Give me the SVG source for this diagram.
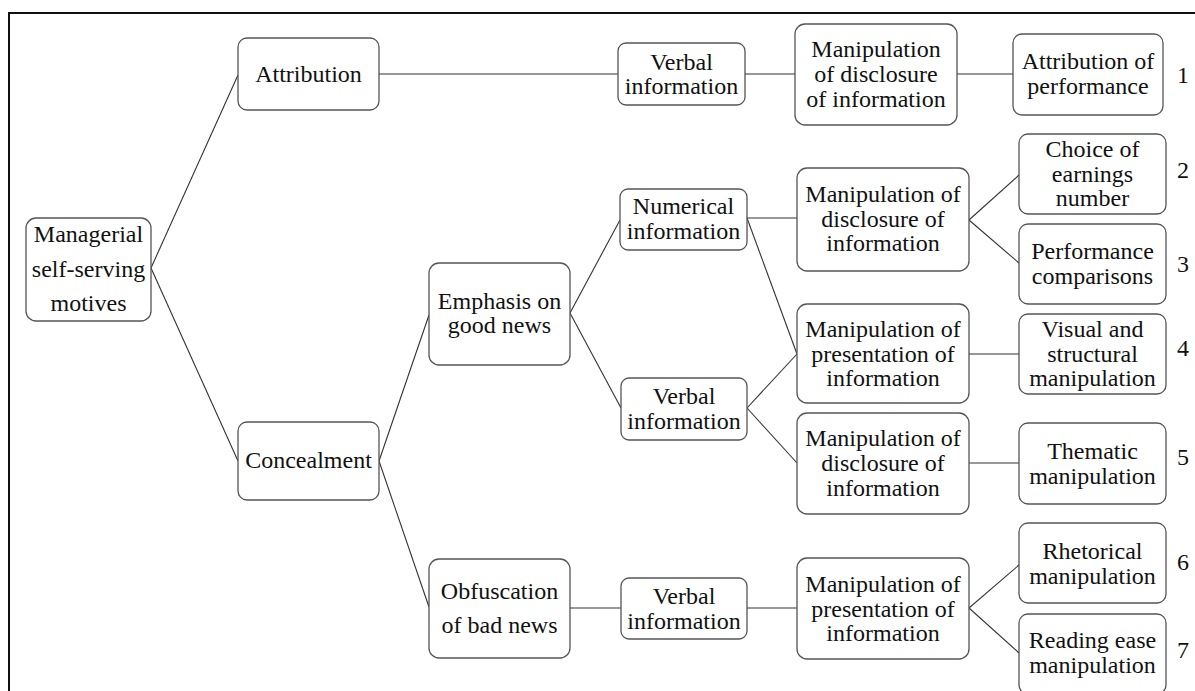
<svg xmlns="http://www.w3.org/2000/svg" width="1195" height="691" viewBox="0 0 1195 691">
<style>
.b{fill:#fff;stroke:#555;stroke-width:1.3}
text{font-family:'Liberation Serif','Times New Roman',Times,serif;font-size:24px;fill:#111;text-anchor:middle}
.c{stroke:#333;stroke-width:1.1;fill:none}
</style>
<rect width="1195" height="691" fill="#fff"/>
<path d="M9,700 V13 H1200" fill="none" stroke="#111" stroke-width="2"/>
<g id="connectors" class="c">
<line x1="151" y1="268" x2="238" y2="75"/>
<line x1="151" y1="268" x2="238" y2="461"/>
<line x1="379" y1="74" x2="618" y2="74"/>
<line x1="745" y1="74" x2="795" y2="74"/>
<line x1="957" y1="74" x2="1013" y2="74"/>
<line x1="379" y1="461" x2="429" y2="315"/>
<line x1="379" y1="461" x2="429" y2="607"/>
<line x1="570" y1="313" x2="620" y2="220"/>
<line x1="570" y1="313" x2="621" y2="408"/>
<line x1="747" y1="218" x2="797" y2="218"/>
<line x1="747" y1="218" x2="797" y2="354"/>
<line x1="747" y1="408" x2="797" y2="354"/>
<line x1="747" y1="408" x2="797" y2="463"/>
<line x1="969" y1="220" x2="1019" y2="175"/>
<line x1="969" y1="220" x2="1019" y2="263"/>
<line x1="969" y1="354" x2="1019" y2="354"/>
<line x1="969" y1="463" x2="1019" y2="463"/>
<line x1="570" y1="608" x2="621" y2="608"/>
<line x1="747" y1="608" x2="797" y2="608"/>
<line x1="969" y1="608" x2="1019" y2="565"/>
<line x1="969" y1="608" x2="1019" y2="653"/>
</g>
<g id="managerial"><rect class="b" x="26" y="218" width="125" height="103" rx="10"/><text font-family="Liberation Serif, serif"><tspan x="88.5" y="242">Managerial</tspan><tspan x="88.5" y="277">self-serving</tspan><tspan x="88.5" y="311">motives</tspan></text></g>
<g id="attribution"><rect class="b" x="238" y="38" width="141" height="72" rx="9"/><text font-family="Liberation Serif, serif" x="308.5" y="82">Attribution</text></g>
<g id="concealment"><rect class="b" x="238" y="422" width="141" height="78" rx="9"/><text font-family="Liberation Serif, serif" x="308.5" y="468">Concealment</text></g>
<g id="emphasis"><rect class="b" x="429" y="263" width="141" height="102" rx="10"/><text font-family="Liberation Serif, serif"><tspan x="499.5" y="309">Emphasis on</tspan><tspan x="499.5" y="333">good news</tspan></text></g>
<g id="obfuscation"><rect class="b" x="429" y="559" width="141" height="99" rx="10"/><text font-family="Liberation Serif, serif"><tspan x="499.5" y="599">Obfuscation</tspan><tspan x="499.5" y="633">of bad news</tspan></text></g>
<g id="verbal1"><rect class="b" x="618" y="43" width="127" height="62" rx="8"/><text font-family="Liberation Serif, serif"><tspan x="681.5" y="70">Verbal</tspan><tspan x="681.5" y="94">information</tspan></text></g>
<g id="numerical"><rect class="b" x="620" y="189" width="127" height="61" rx="8"/><text font-family="Liberation Serif, serif"><tspan x="683.5" y="214">Numerical</tspan><tspan x="683.5" y="239">information</tspan></text></g>
<g id="verbal2"><rect class="b" x="621" y="378" width="126" height="62" rx="8"/><text font-family="Liberation Serif, serif"><tspan x="684" y="404">Verbal</tspan><tspan x="684" y="429">information</tspan></text></g>
<g id="verbal3"><rect class="b" x="621" y="578" width="126" height="61" rx="8"/><text font-family="Liberation Serif, serif"><tspan x="684" y="604">Verbal</tspan><tspan x="684" y="629">information</tspan></text></g>
<g id="manip1"><rect class="b" x="795" y="24" width="162" height="101" rx="10"/><text font-family="Liberation Serif, serif"><tspan x="876" y="57">Manipulation</tspan><tspan x="876" y="82">of disclosure</tspan><tspan x="876" y="107">of information</tspan></text></g>
<g id="manip2"><rect class="b" x="797" y="168" width="172" height="103" rx="10"/><text font-family="Liberation Serif, serif"><tspan x="883" y="202">Manipulation of</tspan><tspan x="883" y="227">disclosure of</tspan><tspan x="883" y="251">information</tspan></text></g>
<g id="manip3"><rect class="b" x="797" y="304" width="172" height="99" rx="10"/><text font-family="Liberation Serif, serif"><tspan x="883" y="337">Manipulation of</tspan><tspan x="883" y="362">presentation of</tspan><tspan x="883" y="386">information</tspan></text></g>
<g id="manip4"><rect class="b" x="797" y="413" width="172" height="101" rx="10"/><text font-family="Liberation Serif, serif"><tspan x="883" y="446">Manipulation of</tspan><tspan x="883" y="471">disclosure of</tspan><tspan x="883" y="496">information</tspan></text></g>
<g id="manip5"><rect class="b" x="797" y="558" width="172" height="101" rx="10"/><text font-family="Liberation Serif, serif"><tspan x="883" y="592">Manipulation of</tspan><tspan x="883" y="617">presentation of</tspan><tspan x="883" y="641">information</tspan></text></g>
<g id="r1"><rect class="b" x="1013" y="34" width="150" height="81" rx="9"/><text font-family="Liberation Serif, serif"><tspan x="1088" y="69">Attribution of</tspan><tspan x="1088" y="94">performance</tspan></text></g>
<g id="r2"><rect class="b" x="1019" y="134" width="147" height="80" rx="9"/><text font-family="Liberation Serif, serif"><tspan x="1092.5" y="157">Choice of</tspan><tspan x="1092.5" y="182">earnings</tspan><tspan x="1092.5" y="206">number</tspan></text></g>
<g id="r3"><rect class="b" x="1019" y="224" width="147" height="80" rx="9"/><text font-family="Liberation Serif, serif"><tspan x="1092.5" y="259">Performance</tspan><tspan x="1092.5" y="284">comparisons</tspan></text></g>
<g id="r4"><rect class="b" x="1019" y="314" width="147" height="80" rx="9"/><text font-family="Liberation Serif, serif"><tspan x="1092.5" y="337">Visual and</tspan><tspan x="1092.5" y="362">structural</tspan><tspan x="1092.5" y="386">manipulation</tspan></text></g>
<g id="r5"><rect class="b" x="1019" y="423" width="147" height="81" rx="9"/><text font-family="Liberation Serif, serif"><tspan x="1092.5" y="459">Thematic</tspan><tspan x="1092.5" y="484">manipulation</tspan></text></g>
<g id="r6"><rect class="b" x="1019" y="523" width="147" height="80" rx="9"/><text font-family="Liberation Serif, serif"><tspan x="1092.5" y="559">Rhetorical</tspan><tspan x="1092.5" y="584">manipulation</tspan></text></g>
<g id="r7"><rect class="b" x="1019" y="614" width="147" height="80" rx="9"/><text font-family="Liberation Serif, serif"><tspan x="1092.5" y="648">Reading ease</tspan><tspan x="1092.5" y="673">manipulation</tspan></text></g>
<g id="numbers" font-family="Liberation Serif, serif">
<text x="1183" y="83">1</text>
<text x="1183" y="178">2</text>
<text x="1183" y="272">3</text>
<text x="1183" y="356">4</text>
<text x="1183" y="465">5</text>
<text x="1183" y="570">6</text>
<text x="1183" y="658">7</text>
</g>
</svg>
